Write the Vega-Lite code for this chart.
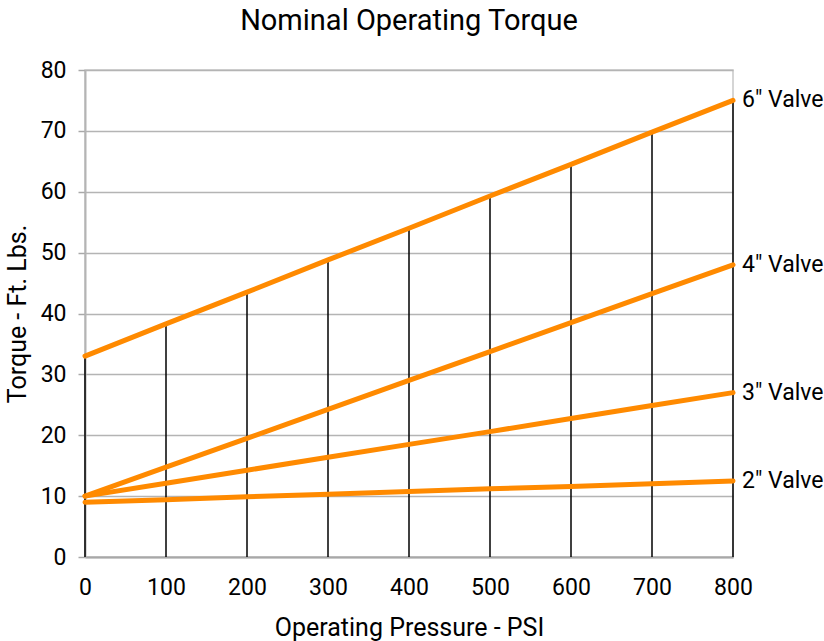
{
  "$schema": "https://vega.github.io/schema/vega-lite/v6.json",
  "autosize": "none",
  "width": 648,
  "height": 487,
  "padding": {"left": 85, "top": 70, "right": 91, "bottom": 84},
  "title": {"text": "Nominal Operating Torque", "fontSize": 29, "font": "Roboto", "fontWeight": "normal", "color": "#000000", "offset": 23, "anchor": "middle"},
  "config": {
    "font": "Roboto",
    "view": {"stroke": "#c8c8c8", "strokeWidth": 1.5},
    "axis": {"labelFont": "Roboto", "titleFont": "Roboto", "labelColor": "#000000", "titleColor": "#000000", "titleFontWeight": "normal"}
  },
  "data": {
    "values": [
      {"series": "6\" Valve", "pressure": 0, "torque": 33},
      {"series": "6\" Valve", "pressure": 100, "torque": 38.3},
      {"series": "6\" Valve", "pressure": 200, "torque": 43.5},
      {"series": "6\" Valve", "pressure": 300, "torque": 48.8},
      {"series": "6\" Valve", "pressure": 400, "torque": 54},
      {"series": "6\" Valve", "pressure": 500, "torque": 59.3},
      {"series": "6\" Valve", "pressure": 600, "torque": 64.5},
      {"series": "6\" Valve", "pressure": 700, "torque": 69.8},
      {"series": "6\" Valve", "pressure": 800, "torque": 75},
      {"series": "4\" Valve", "pressure": 0, "torque": 10},
      {"series": "4\" Valve", "pressure": 100, "torque": 14.75},
      {"series": "4\" Valve", "pressure": 200, "torque": 19.5},
      {"series": "4\" Valve", "pressure": 300, "torque": 24.25},
      {"series": "4\" Valve", "pressure": 400, "torque": 29},
      {"series": "4\" Valve", "pressure": 500, "torque": 33.75},
      {"series": "4\" Valve", "pressure": 600, "torque": 38.5},
      {"series": "4\" Valve", "pressure": 700, "torque": 43.25},
      {"series": "4\" Valve", "pressure": 800, "torque": 48},
      {"series": "3\" Valve", "pressure": 0, "torque": 10},
      {"series": "3\" Valve", "pressure": 100, "torque": 12.1},
      {"series": "3\" Valve", "pressure": 200, "torque": 14.25},
      {"series": "3\" Valve", "pressure": 300, "torque": 16.4},
      {"series": "3\" Valve", "pressure": 400, "torque": 18.5},
      {"series": "3\" Valve", "pressure": 500, "torque": 20.6},
      {"series": "3\" Valve", "pressure": 600, "torque": 22.75},
      {"series": "3\" Valve", "pressure": 700, "torque": 24.9},
      {"series": "3\" Valve", "pressure": 800, "torque": 27},
      {"series": "2\" Valve", "pressure": 0, "torque": 9},
      {"series": "2\" Valve", "pressure": 100, "torque": 9.4},
      {"series": "2\" Valve", "pressure": 200, "torque": 9.9},
      {"series": "2\" Valve", "pressure": 300, "torque": 10.3},
      {"series": "2\" Valve", "pressure": 400, "torque": 10.75},
      {"series": "2\" Valve", "pressure": 500, "torque": 11.2},
      {"series": "2\" Valve", "pressure": 600, "torque": 11.6},
      {"series": "2\" Valve", "pressure": 700, "torque": 12.05},
      {"series": "2\" Valve", "pressure": 800, "torque": 12.5}
    ]
  },
  "encoding": {
    "x": {
      "field": "pressure", "type": "quantitative",
      "scale": {"domain": [0, 800], "nice": false},
      "axis": {"values": [0, 100, 200, 300, 400, 500, 600, 700, 800], "title": "Operating Pressure - PSI", "titleFontSize": 25, "titlePadding": 16, "labelFontSize": 23, "labelPadding": 19, "labelFlush": false, "ticks": false, "grid": false, "domainColor": "#a8a8a8", "domainWidth": 2}
    },
    "y": {
      "field": "torque", "type": "quantitative",
      "scale": {"domain": [0, 80], "nice": false},
      "axis": {"values": [0, 10, 20, 30, 40, 50, 60, 70, 80], "title": "Torque - Ft. Lbs.", "titleFontSize": 25, "titlePadding": 10, "labelFontSize": 23, "labelPadding": 12, "tickSize": 7, "tickColor": "#a8a8a8", "tickWidth": 1.5, "gridColor": "#b4b4b4", "gridWidth": 1.5, "domainColor": "#b4b4b4", "domainWidth": 2}
    }
  },
  "layer": [
    {
      "transform": [{"filter": "datum.series === '6\" Valve'"}],
      "mark": {"type": "rule", "color": "#000000", "strokeWidth": 1.5},
      "encoding": {"y": {"datum": 0}, "y2": {"field": "torque"}}
    },
    {
      "mark": {"type": "line", "color": "#ff8a00", "strokeWidth": 5, "strokeCap": "round"},
      "encoding": {"detail": {"field": "series"}}
    },
    {
      "transform": [{"filter": "datum.pressure === 800"}],
      "mark": {"type": "text", "align": "left", "baseline": "middle", "dx": 9, "fontSize": 23, "font": "Roboto", "color": "#000000"},
      "encoding": {"text": {"field": "series"}}
    }
  ]
}
